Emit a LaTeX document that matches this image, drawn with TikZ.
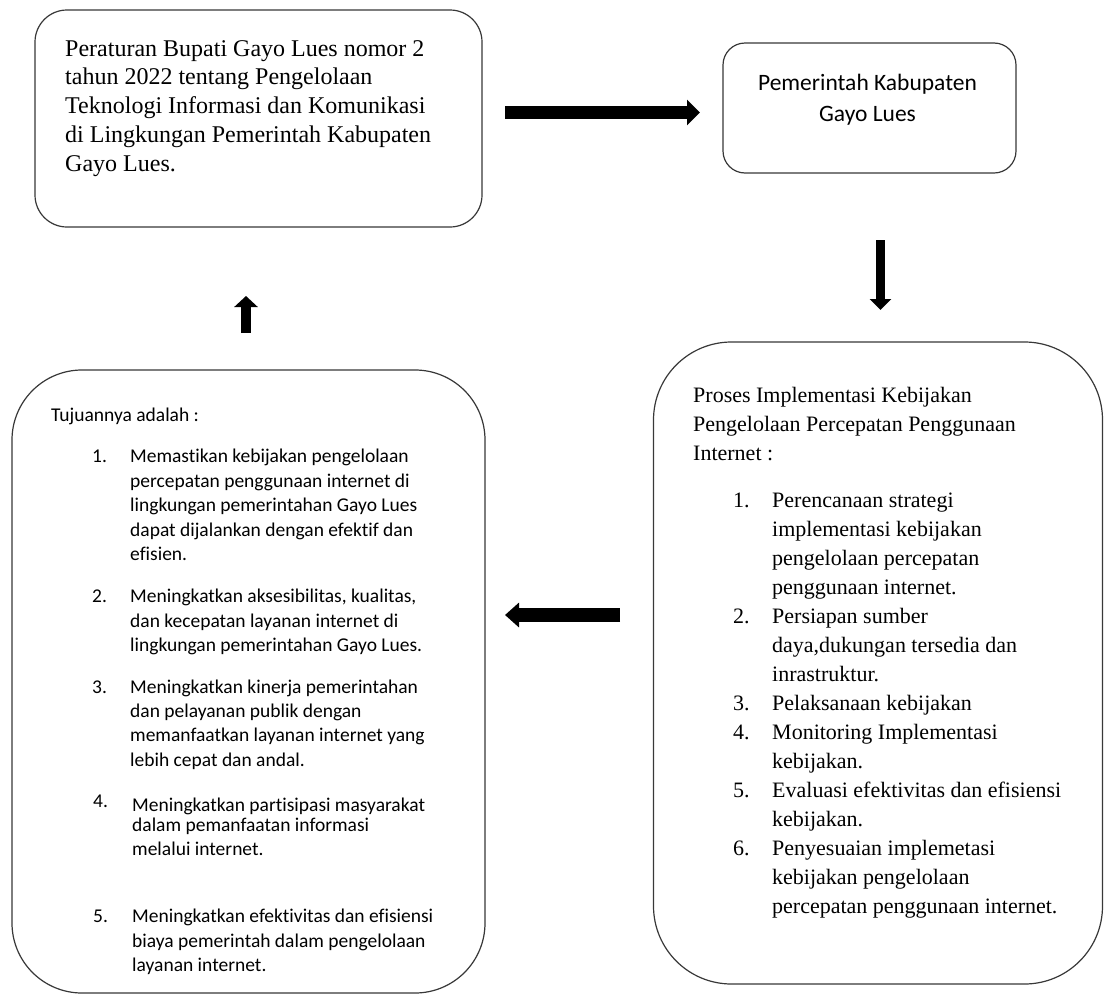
\documentclass[tikz,border=0pt]{standalone}
\usepackage{fontspec}
\setmainfont[Ligatures=NoCommon]{Liberation Serif}
\newfontfamily\calib[Ligatures=NoCommon]{Carlito}
\usetikzlibrary{arrows.meta}
\tikzset{
  rbox/.style={draw=black!78, line width=1.2pt, fill=white, inner sep=0pt},
  txt/.style={anchor=base west, inner sep=0pt},
  ctxt/.style={anchor=base, inner sep=0pt},
  blockH/.style={line width=13pt, -{Triangle[length=13pt,width=25pt]}},
  blockV/.style={line width=9.5pt, -{Triangle[length=11pt,width=21pt]}},
}
\newcommand{\itm}[2]{\hbox{\hskip40pt\makebox[39pt][l]{#1}#2}}
\newcommand{\cnt}[1]{\hbox{\hskip79pt #1}}
\newcommand{\itmB}[2]{\hbox{\hskip41pt\makebox[38pt][l]{#1}#2}}
\newcommand{\cntB}[1]{\hbox{\hskip79pt #1}}
\begin{document}
\begin{tikzpicture}[x=1pt,y=-1pt]
\useasboundingbox (0,0) rectangle (1105,996);
% boxes
\node[rbox, minimum width=447pt, minimum height=217pt, rounded corners=32pt] (b1) at (258.5,118.5) {};
\node[rbox, minimum width=293pt, minimum height=130pt, rounded corners=22pt] (b2) at (869.5,108) {};
\node[rbox, minimum width=449pt, minimum height=642pt, rounded corners=78pt] (b3) at (878,663) {};
\node[rbox, minimum width=473pt, minimum height=623pt, rounded corners=70pt] (b4) at (248.5,681.5) {};
% texts
\node[txt, font=\fontsize{24pt}{28.75pt}\selectfont] (t1) at (65,56) {\vtop{\baselineskip=28.75pt
\hbox{Peraturan Bupati Gayo Lues nomor 2}
\hbox{tahun 2022 tentang Pengelolaan}
\hbox{Teknologi Informasi dan Komunikasi}
\hbox{di Lingkungan Pemerintah Kabupaten}
\hbox{Gayo Lues.}}};
\node[ctxt, font=\calib\fontsize{23.5pt}{31pt}\selectfont] (t2) at (867.5,90) {\vtop{\baselineskip=31pt
\hbox to 280pt{\hfil Pemerintah Kabupaten\hfil}
\hbox to 280pt{\hfil Gayo Lues\hfil}}};
\node[txt, font=\fontsize{22pt}{29pt}\selectfont] (t3) at (693,402) {\vtop{\baselineskip=29pt
\hbox{Proses Implementasi Kebijakan}
\hbox{Pengelolaan Percepatan Penggunaan}
\hbox{Internet :}
\vskip18pt
\itm{1.}{Perencanaan strategi}
\cnt{implementasi kebijakan}
\cnt{pengelolaan percepatan}
\cnt{penggunaan internet.}
\itm{2.}{Persiapan sumber}
\cnt{daya,dukungan tersedia dan}
\cnt{inrastruktur.}
\itm{3.}{Pelaksanaan kebijakan}
\itm{4.}{Monitoring Implementasi}
\cnt{kebijakan.}
\itm{5.}{Evaluasi efektivitas dan efisiensi}
\cnt{kebijakan.}
\itm{6.}{Penyesuaian implemetasi}
\cnt{kebijakan pengelolaan}
\cnt{percepatan penggunaan internet.}}};
\node[txt, font=\calib\fontsize{19.5pt}{24.4pt}\selectfont] (t4) at (51,421) {\vtop{\baselineskip=24.4pt
\hbox{Tujuannya adalah :}
\vskip17.5pt
\itmB{1.}{Memastikan kebijakan pengelolaan}
\cntB{percepatan penggunaan internet di}
\cntB{lingkungan pemerintahan Gayo Lues}
\cntB{dapat dijalankan dengan efektif dan}
\cntB{efisien.}
\vskip18pt
\itmB{2.}{Meningkatkan aksesibilitas, kualitas,}
\cntB{dan kecepatan layanan internet di}
\cntB{lingkungan pemerintahan Gayo Lues.}
\vskip17pt
\itmB{3.}{Meningkatkan kinerja pemerintahan}
\cntB{dan pelayanan publik dengan}
\cntB{memanfaatkan layanan internet yang}
\cntB{lebih cepat dan andal.}
\vskip20.5pt
\hbox{\hskip42pt\makebox[39pt][l]{\raisebox{4pt}{4.}}Meningkatkan partisipasi masyarakat}
\vskip-4.5pt
\hbox{\hskip81pt dalam pemanfaatan informasi}
\hbox{\hskip81pt melalui internet.}
\vskip43pt
\hbox{\hskip42pt\makebox[39pt][l]{5.}Meningkatkan efektivitas dan efisiensi}
\hbox{\hskip81pt biaya pemerintah dalam pengelolaan}
\hbox{\hskip81pt layanan internet.}}};
% arrows
\coordinate (r0) at (505,112.5); \coordinate (r1) at (700,112.5);
\coordinate (d0) at (880.5,240); \coordinate (d1) at (880.5,310);
\coordinate (l0) at (620,615); \coordinate (l1) at (505,615);
\coordinate (u0) at (246,333); \coordinate (u1) at (246,296);
\draw[blockH] (r0) -- (r1);
\draw[blockV] (d0) -- (d1);
\draw[blockH, line width=13.5pt, -{Triangle[length=14pt,width=24pt]}] (l0) -- (l1);
\draw[blockV, line width=10pt, -{Triangle[length=11pt,width=23pt]}] (u0) -- (u1);
\end{tikzpicture}
\end{document}
